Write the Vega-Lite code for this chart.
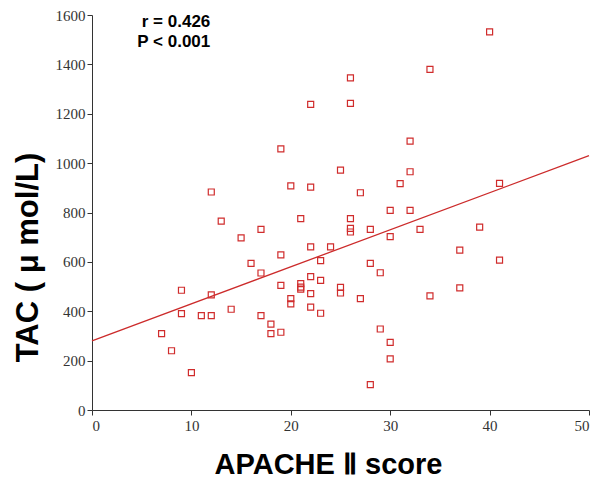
{
  "$schema": "https://vega.github.io/schema/vega-lite/v6.json",
  "width": 497,
  "height": 395,
  "autosize": "none",
  "padding": {"left": 92, "top": 15, "right": 11, "bottom": 85},
  "background": "white",
  "config": {"view": {"stroke": null}},
  "datasets": {
    "pts": [
      {"apache": 26, "tac": 1345}, {"apache": 22, "tac": 1238}, {"apache": 26, "tac": 1242},
      {"apache": 32, "tac": 1089}, {"apache": 19, "tac": 1058}, {"apache": 40, "tac": 1532},
      {"apache": 34, "tac": 1380}, {"apache": 12, "tac": 883}, {"apache": 13, "tac": 765},
      {"apache": 15, "tac": 697}, {"apache": 17, "tac": 732}, {"apache": 16, "tac": 594},
      {"apache": 17, "tac": 555}, {"apache": 25, "tac": 972}, {"apache": 32, "tac": 965},
      {"apache": 20, "tac": 908}, {"apache": 22, "tac": 903}, {"apache": 31, "tac": 917},
      {"apache": 27, "tac": 880}, {"apache": 30, "tac": 809}, {"apache": 32, "tac": 809},
      {"apache": 21, "tac": 775}, {"apache": 26, "tac": 775}, {"apache": 26, "tac": 736},
      {"apache": 26, "tac": 721}, {"apache": 28, "tac": 732}, {"apache": 33, "tac": 732},
      {"apache": 30, "tac": 702}, {"apache": 22, "tac": 661}, {"apache": 24, "tac": 661},
      {"apache": 19, "tac": 628}, {"apache": 23, "tac": 605}, {"apache": 28, "tac": 594},
      {"apache": 29, "tac": 556}, {"apache": 22, "tac": 540}, {"apache": 23, "tac": 525},
      {"apache": 41, "tac": 918}, {"apache": 39, "tac": 741}, {"apache": 37, "tac": 648},
      {"apache": 41, "tac": 607}, {"apache": 9, "tac": 485}, {"apache": 12, "tac": 466},
      {"apache": 9, "tac": 390}, {"apache": 11, "tac": 382}, {"apache": 12, "tac": 382},
      {"apache": 14, "tac": 408}, {"apache": 17, "tac": 382}, {"apache": 7, "tac": 309},
      {"apache": 8, "tac": 240}, {"apache": 10, "tac": 151}, {"apache": 19, "tac": 505},
      {"apache": 21, "tac": 512}, {"apache": 21, "tac": 498}, {"apache": 21, "tac": 490},
      {"apache": 22, "tac": 471}, {"apache": 20, "tac": 451}, {"apache": 20, "tac": 430},
      {"apache": 22, "tac": 417}, {"apache": 23, "tac": 392}, {"apache": 25, "tac": 497},
      {"apache": 25, "tac": 474}, {"apache": 27, "tac": 451}, {"apache": 18, "tac": 348},
      {"apache": 18, "tac": 309}, {"apache": 19, "tac": 315}, {"apache": 29, "tac": 328},
      {"apache": 30, "tac": 274}, {"apache": 30, "tac": 207}, {"apache": 28, "tac": 103},
      {"apache": 34, "tac": 462}, {"apache": 37, "tac": 495}
    ],
    "fit": [{"apache": 0, "tac": 280}, {"apache": 50, "tac": 1030}],
    "notes": [
      {"apache": 11.9, "tac": 1552, "label": "r = 0.426"},
      {"apache": 11.9, "tac": 1471, "label": "P < 0.001"}
    ]
  },
  "layer": [
    {
      "data": {"name": "fit"},
      "mark": {"type": "line", "color": "#cc2b2b", "strokeWidth": 1.3},
      "encoding": {
        "x": {
          "field": "apache", "type": "quantitative",
          "scale": {"domain": [0, 50], "nice": false},
          "axis": {
            "title": "APACHE Ⅱ score",
            "values": [0, 10, 20, 30, 40, 50],
            "format": "d",
            "grid": false,
            "domainColor": "#333", "tickColor": "#333", "tickSize": 5,
            "labelFont": "Liberation Serif", "labelFontSize": 15, "labelColor": "#333",
            "labelPadding": 3,
            "titleFont": "Liberation Sans", "titleFontWeight": "bold", "titleFontSize": 29,
            "titleColor": "#000", "titlePadding": 17, "titleX": 236
          }
        },
        "y": {
          "field": "tac", "type": "quantitative",
          "scale": {"domain": [0, 1600], "nice": false},
          "axis": {
            "title": "TAC ( μ mol/L)",
            "values": [0, 200, 400, 600, 800, 1000, 1200, 1400, 1600],
            "format": "d",
            "grid": false,
            "domainColor": "#333", "tickColor": "#333", "tickSize": 5,
            "labelFont": "Liberation Serif", "labelFontSize": 15, "labelColor": "#333",
            "labelPadding": 2,
            "titleFont": "Liberation Sans", "titleFontWeight": "bold", "titleFontSize": 31,
            "titleColor": "#000", "titleX": -64, "titleY": 242,
            "titleAngle": -90, "titleBaseline": "middle", "titleAlign": "center"
          }
        }
      }
    },
    {
      "data": {"name": "pts"},
      "mark": {"type": "point", "shape": "square", "filled": false, "size": 36, "color": "#d02c2c", "strokeWidth": 1.2, "opacity": 1},
      "encoding": {
        "x": {"field": "apache", "type": "quantitative"},
        "y": {"field": "tac", "type": "quantitative"}
      }
    },
    {
      "data": {"name": "notes"},
      "mark": {"type": "text", "align": "right", "baseline": "alphabetic", "font": "Liberation Sans", "fontWeight": "bold", "fontSize": 17, "color": "#000"},
      "encoding": {
        "x": {"field": "apache", "type": "quantitative"},
        "y": {"field": "tac", "type": "quantitative"},
        "text": {"field": "label"}
      }
    }
  ]
}
